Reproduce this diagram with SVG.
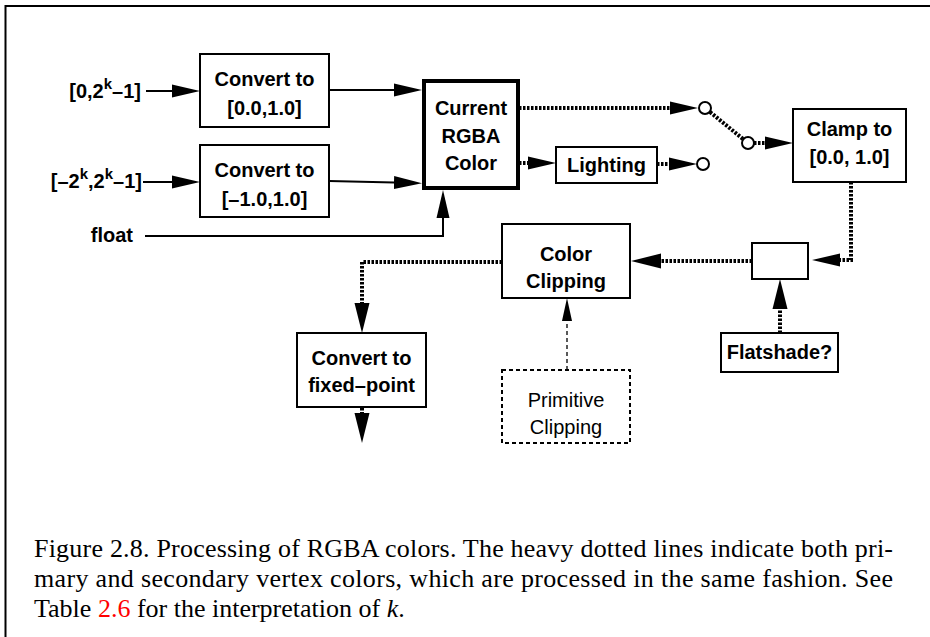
<svg xmlns="http://www.w3.org/2000/svg" width="930" height="637" viewBox="0 0 930 637">
<style>
.box{fill:#fff;stroke:#000;stroke-width:2}
.thick{fill:#fff;stroke:#000;stroke-width:4}
.dbox{fill:#fff;stroke:#000;stroke-width:2;stroke-dasharray:4 3}
.lb{font-family:"Liberation Sans",Arial,Helvetica,sans-serif;font-weight:bold;font-size:20px;fill:#000}
.lr{font-family:"Liberation Sans",Arial,Helvetica,sans-serif;font-size:20px;fill:#000}
.sup{font-size:15px}
.solid{fill:none;stroke:#000;stroke-width:2}
.heavy{fill:none;stroke:#000;stroke-width:4;stroke-dasharray:2.5 1.5}
.dash{fill:none;stroke:#000;stroke-width:1.3;stroke-dasharray:4 3}
.cap{font-family:"Liberation Serif","Times New Roman",serif;font-size:26px;fill:#000}
.circ{fill:#fff;stroke:#000;stroke-width:2}
</style>
<defs>
<marker id="a" markerUnits="userSpaceOnUse" markerWidth="32" markerHeight="20" refX="0" refY="10" orient="auto" viewBox="0 0 32 20">
<path d="M0,3.5 L28,10 L0,16.5 z" fill="#000"/>
</marker>
<marker id="ab" markerUnits="userSpaceOnUse" markerWidth="34" markerHeight="20" refX="0" refY="10" orient="auto" viewBox="0 0 34 20">
<path d="M0,2.5 L30,10 L0,17.5 z" fill="#000"/>
</marker>
<marker id="as" markerUnits="userSpaceOnUse" markerWidth="26" markerHeight="14" refX="0" refY="7" orient="auto" viewBox="0 0 26 14">
<path d="M0,2 L23,7 L0,12 z" fill="#000"/>
</marker>
</defs>

<path d="M5.5,637 V6 H930" fill="none" stroke="#000" stroke-width="2"/>

<g id="connectors">
<path class="solid" d="M146,91 H172" marker-end="url(#a)"/>
<path class="solid" d="M143,182 H172" marker-end="url(#a)"/>
<path class="solid" d="M329,90 H394" marker-end="url(#a)"/>
<path class="solid" d="M329,181 L394,182.5" marker-end="url(#a)"/>
<path class="solid" d="M145,236 H443 V218" marker-end="url(#a)"/>
<path class="heavy" d="M519,108 H670" marker-end="url(#a)"/>
<path class="heavy" d="M710,112 L743,139"/>
<path class="heavy" d="M754,143 H765" marker-end="url(#a)"/>
<path class="heavy" d="M519,163 H528" marker-end="url(#a)"/>
<path class="heavy" d="M657,164 H669" marker-end="url(#a)"/>
<path class="heavy" d="M851,182 V260 H840" marker-end="url(#a)"/>
<path class="heavy" d="M780,333 V309" marker-end="url(#ab)"/>
<path class="heavy" d="M752,261 H661" marker-end="url(#ab)"/>
<path class="heavy" d="M502,262 H362 V303" marker-end="url(#ab)"/>
<path class="heavy" d="M362,408 V413" marker-end="url(#ab)"/>
<path class="dash" d="M567,370 V321" marker-end="url(#as)"/>
<circle class="circ" cx="705" cy="108" r="6"/>
<circle class="circ" cx="748" cy="143" r="6"/>
<circle class="circ" cx="703" cy="164" r="6"/>
</g>

<g id="label-in1"><text class="lb" x="141" y="98" text-anchor="end">[0,2<tspan class="sup" dy="-9">k</tspan><tspan dy="9">–1]</tspan></text></g>
<g id="label-in2"><text class="lb" x="142" y="188" text-anchor="end">[–2<tspan class="sup" dy="-9">k</tspan><tspan dy="9">,2</tspan><tspan class="sup" dy="-9">k</tspan><tspan dy="9">–1]</tspan></text></g>
<g id="label-float"><text class="lb" x="133" y="242" text-anchor="end">float</text></g>

<g id="convert1">
<rect class="box" x="200" y="54" width="129" height="73"/>
<text class="lb" x="264.5" y="86" text-anchor="middle">Convert to</text>
<text class="lb" x="264.5" y="115" text-anchor="middle">[0.0,1.0]</text>
</g>
<g id="convert2">
<rect class="box" x="200" y="145" width="129" height="72"/>
<text class="lb" x="264.5" y="177" text-anchor="middle">Convert to</text>
<text class="lb" x="264.5" y="206" text-anchor="middle">[–1.0,1.0]</text>
</g>
<g id="current">
<rect class="thick" x="424" y="81" width="94" height="107"/>
<text class="lb" x="471" y="115" text-anchor="middle">Current</text>
<text class="lb" x="471" y="143" text-anchor="middle">RGBA</text>
<text class="lb" x="471" y="170" text-anchor="middle">Color</text>
</g>
<g id="lighting">
<rect class="box" x="556" y="147" width="101" height="36"/>
<text class="lb" x="606.5" y="172" text-anchor="middle">Lighting</text>
</g>
<g id="clamp">
<rect class="box" x="793" y="109" width="113" height="73"/>
<text class="lb" x="849.5" y="136" text-anchor="middle">Clamp to</text>
<text class="lb" x="849.5" y="164" text-anchor="middle">[0.0, 1.0]</text>
</g>
<g id="select">
<rect class="box" x="752" y="243" width="56" height="36"/>
</g>
<g id="flatshade">
<rect class="box" x="721" y="333" width="117" height="39"/>
<text class="lb" x="779.5" y="359" text-anchor="middle">Flatshade?</text>
</g>
<g id="colorclip">
<rect class="box" x="502" y="224" width="128" height="74"/>
<text class="lb" x="566" y="261" text-anchor="middle">Color</text>
<text class="lb" x="566" y="288" text-anchor="middle">Clipping</text>
</g>
<g id="fixedpoint">
<rect class="box" x="297" y="333" width="129" height="74"/>
<text class="lb" x="361.5" y="365" text-anchor="middle">Convert to</text>
<text class="lb" x="361.5" y="392" text-anchor="middle">fixed–point</text>
</g>
<g id="primclip">
<rect class="dbox" x="502" y="370" width="128" height="73"/>
<text class="lr" x="566" y="407" text-anchor="middle">Primitive</text>
<text class="lr" x="566" y="434" text-anchor="middle">Clipping</text>
</g>

<g id="caption">
<text class="cap" x="34" y="557" textLength="859" lengthAdjust="spacing">Figure 2.8. Processing of RGBA colors. The heavy dotted lines indicate both pri-</text>
<text class="cap" x="34" y="587" textLength="859" lengthAdjust="spacing">mary and secondary vertex colors, which are processed in the same fashion. See</text>
<text class="cap" x="34" y="617">Table <tspan fill="#ff0000">2.6</tspan> for the interpretation of <tspan font-style="italic">k</tspan>.</text>
</g>
</svg>
